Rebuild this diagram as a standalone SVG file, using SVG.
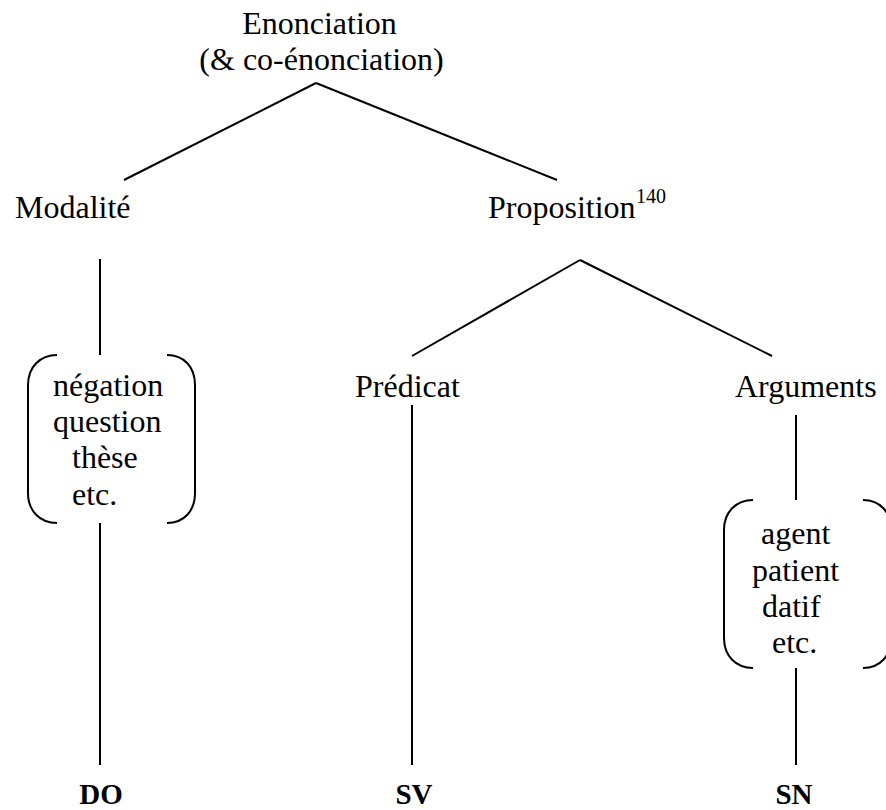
<svg xmlns="http://www.w3.org/2000/svg" width="886" height="810" viewBox="0 0 886 810">
<style>
text{font-family:"Liberation Serif","Times New Roman",serif;font-size:32px;fill:#000}
.b{font-weight:bold;font-size:29px}
.sup{font-size:20px}
.ln{stroke:#000;stroke-width:2;fill:none}
</style>
<rect width="886" height="810" fill="#fff"/>
<g id="connectors">
<line class="ln" x1="316" y1="83" x2="124" y2="180"/>
<line class="ln" x1="316" y1="83" x2="557" y2="180"/>
<line class="ln" x1="100" y1="259" x2="100" y2="355"/>
<line class="ln" x1="100" y1="523" x2="100" y2="765"/>
<line class="ln" x1="580" y1="260" x2="412" y2="356"/>
<line class="ln" x1="580" y1="260" x2="772" y2="356"/>
<line class="ln" x1="412" y1="405" x2="412" y2="765"/>
<line class="ln" x1="796" y1="415" x2="796" y2="500"/>
<line class="ln" x1="796" y1="668" x2="796" y2="765"/>
</g>
<g id="enonciation">
<text x="319.5" y="34" text-anchor="middle">Enonciation</text>
<text x="321.5" y="70" text-anchor="middle">(&amp; co-énonciation)</text>
</g>
<g id="modalite">
<text x="15" y="218">Modalité</text>
</g>
<g id="proposition">
<text x="488" y="218">Proposition<tspan class="sup" x="636" y="203">140</tspan></text>
</g>
<g id="modalite-list">
<path class="ln" d="M57,355 C40,355 28,367 28,385 L28,493 C28,511 40,523 57,523"/>
<path class="ln" d="M167,355 C184,355 195,367 195,385 L195,493 C195,511 184,523 167,523"/>
<text x="53" y="396">négation</text>
<text x="53" y="432">question</text>
<text x="72" y="468">thèse</text>
<text x="72" y="505">etc.</text>
</g>
<g id="predicat">
<text x="355" y="397">Prédicat</text>
</g>
<g id="arguments">
<text x="735" y="397">Arguments</text>
</g>
<g id="arguments-list">
<path class="ln" d="M753,500 C736,500 724,512 724,530 L724,638 C724,656 736,668 753,668"/>
<path class="ln" d="M863,500 C880,500 891,512 891,530 L891,638 C891,656 880,668 863,668"/>
<text x="761" y="544">agent</text>
<text x="752" y="581">patient</text>
<text x="762" y="617">datif</text>
<text x="772" y="653">etc.</text>
</g>
<g id="do"><text class="b" x="101" y="804" text-anchor="middle">DO</text></g>
<g id="sv"><text class="b" x="414" y="804" text-anchor="middle">SV</text></g>
<g id="sn"><text class="b" x="794" y="804" text-anchor="middle">SN</text></g>
</svg>
